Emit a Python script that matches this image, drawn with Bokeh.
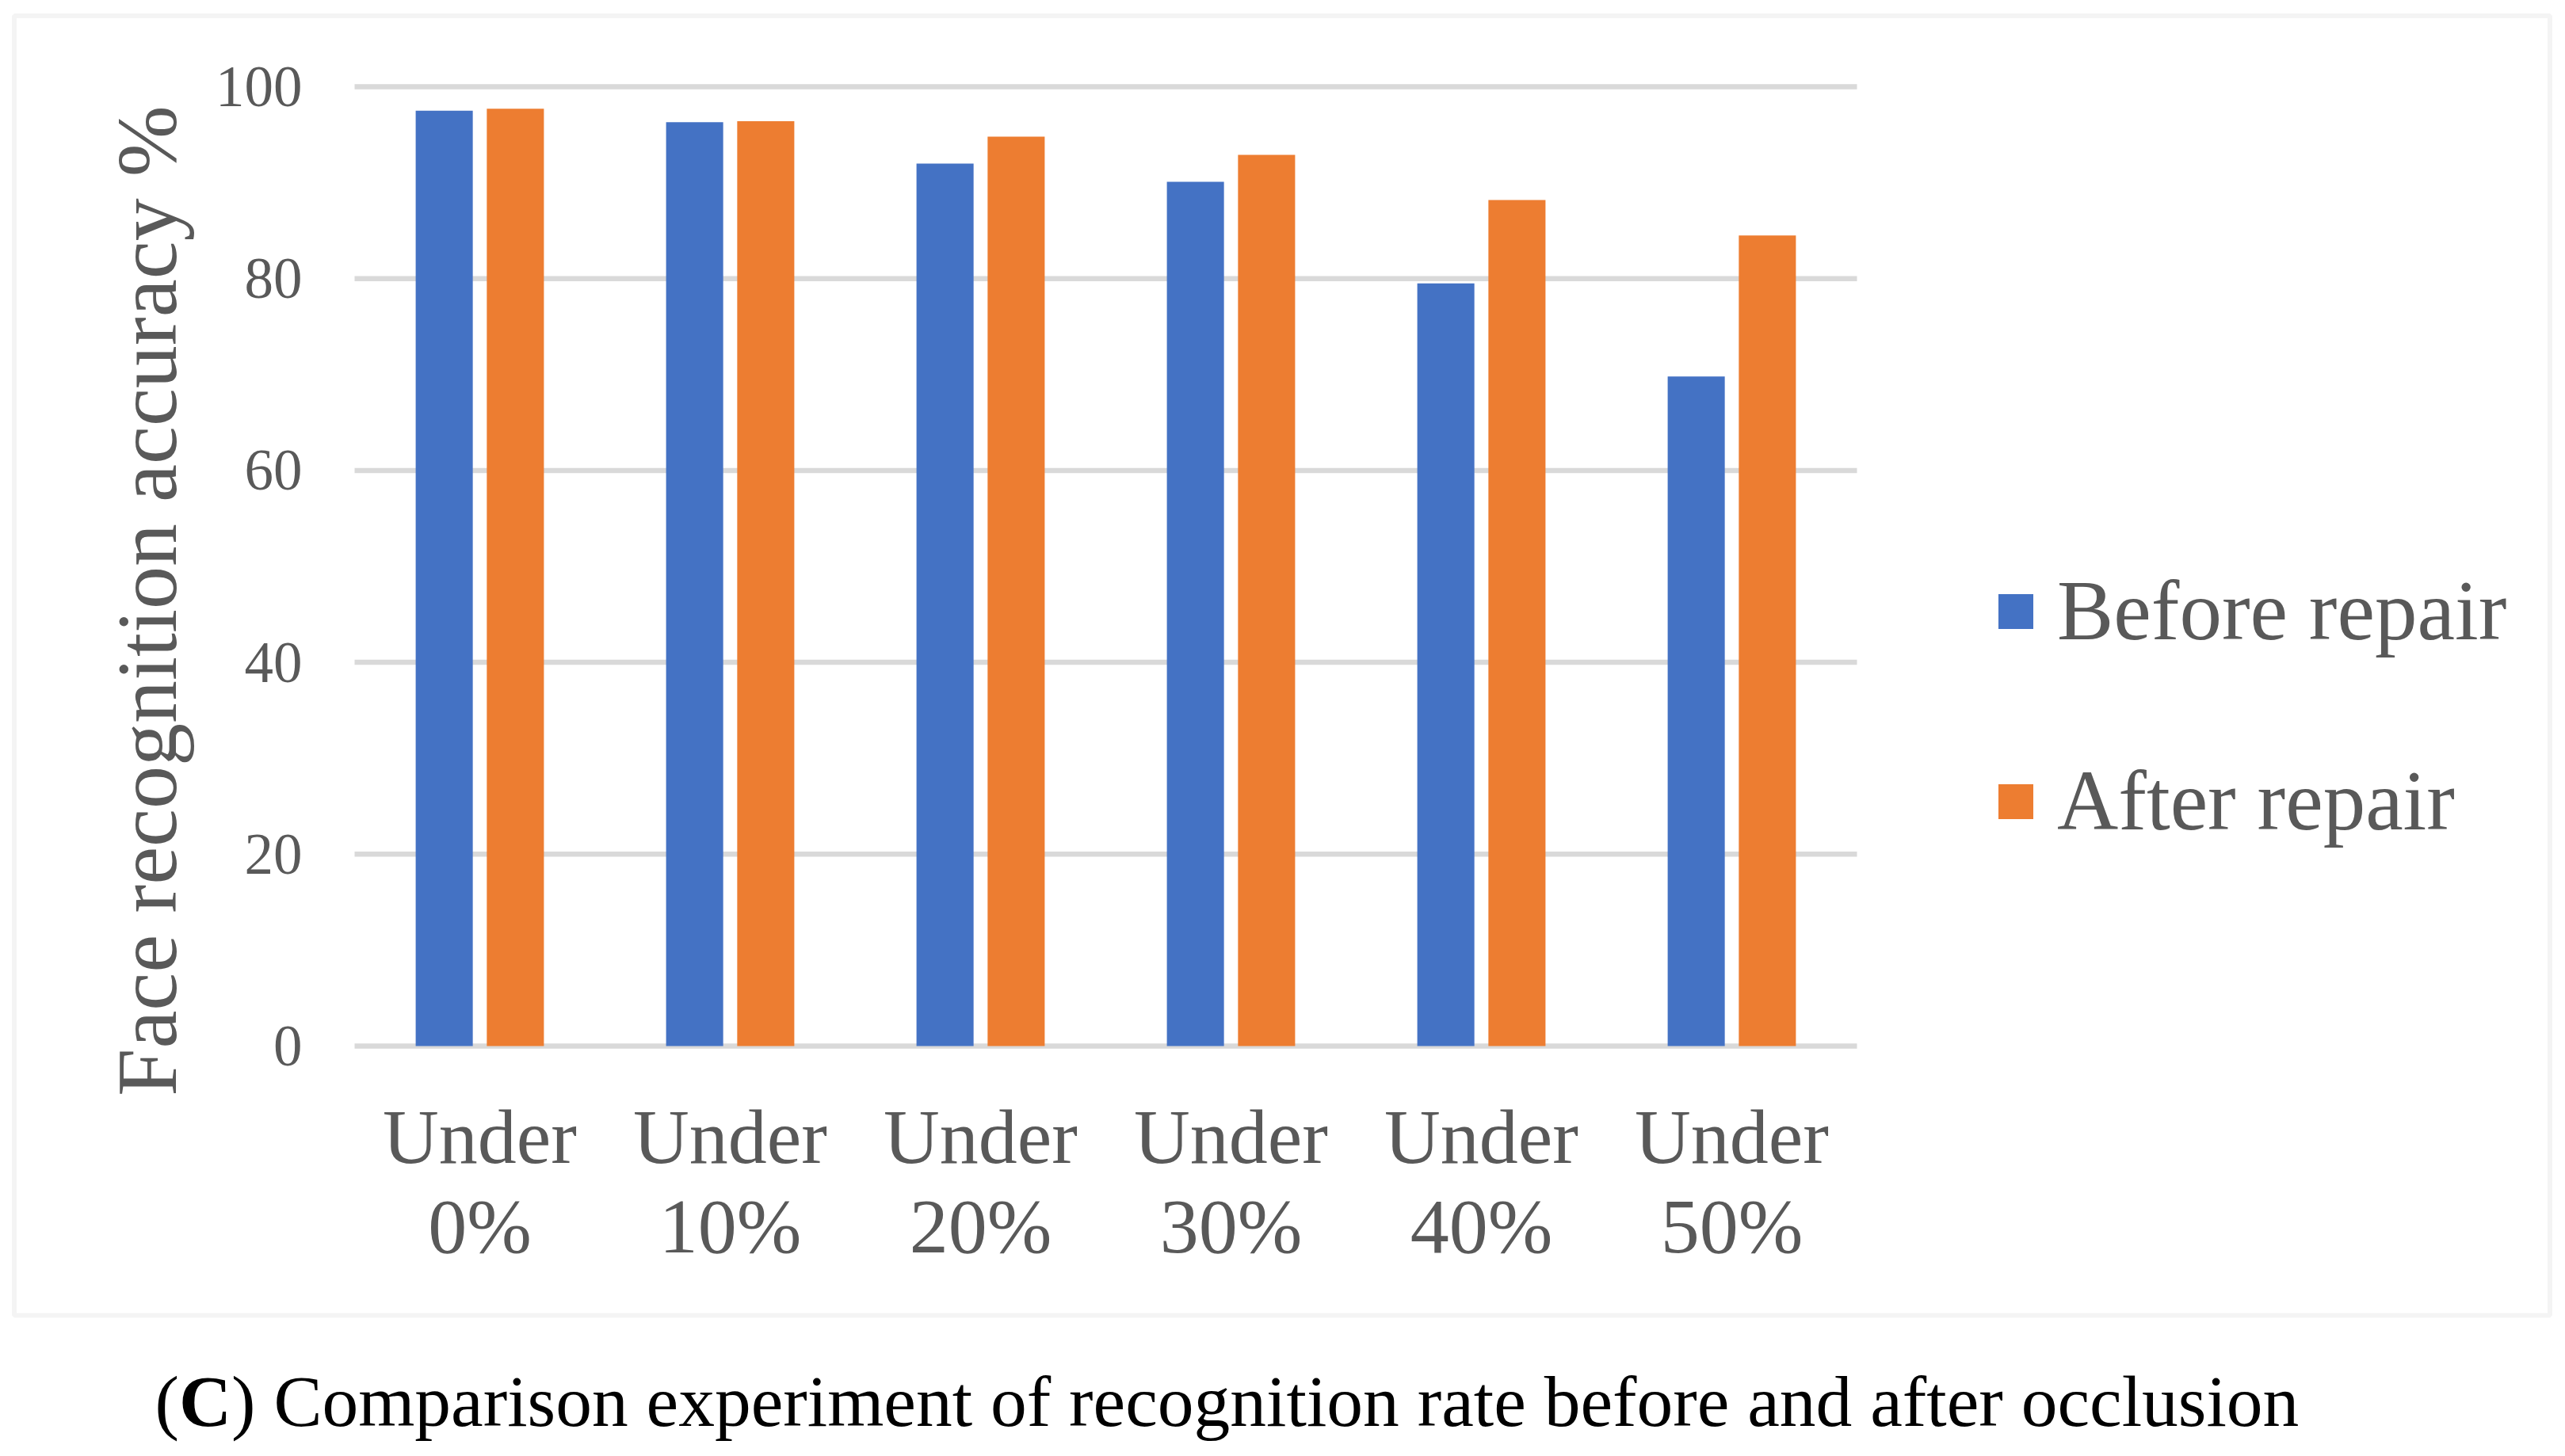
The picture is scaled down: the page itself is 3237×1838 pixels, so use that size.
from bokeh.plotting import figure
from bokeh.models import (Range1d, FixedTicker, Legend, LegendItem, Label,
                          BoxAnnotation)
from bokeh.embed import file_html
from bokeh.resources import INLINE
import math

# ---- data ----
categories = ["Under\n0%", "Under\n10%", "Under\n20%", "Under\n30%", "Under\n40%", "Under\n50%"]
before_repair = [97.5, 96.3, 92.0, 90.1, 79.5, 69.8]
after_repair = [97.7, 96.4, 94.8, 92.9, 88.2, 84.5]
y_ticks = [0, 20, 40, 60, 80, 100]
series_names = ["Before repair", "After repair"]
y_title = "Face recognition accuracy %"
caption = "Comparison experiment of recognition rate before and after occlusion"

BLUE = "#4472C4"
ORANGE = "#ED7D31"
TXT = "#595959"
GRID = "#D9D9D9"
FONT = "Liberation Serif"

# ---- layout (pixels) ----
W, H = 3221, 1822
X0_PX = 447.0        # pixel of category-axis start
XU = 316.0           # pixels per category
Y0_PX = 1320.0       # pixel of value 0
YU = 12.11           # pixels per value unit


def px_x(px):
    return (px - X0_PX) / XU


def px_y(py):
    return (Y0_PX - py) / YU


p = figure(width=W, height=H, output_backend="svg", toolbar_location=None,
           x_range=Range1d(px_x(0), px_x(W)), y_range=Range1d(px_y(H), px_y(0)),
           min_border=0, min_border_left=0, min_border_right=0,
           min_border_top=0, min_border_bottom=0)
p.outline_line_color = None
p.background_fill_color = "white"
p.border_fill_color = "white"
p.grid.visible = False

n = len(categories)
xc = [i + 0.5 for i in range(n)]
off = 0.142
bw = 0.228

# horizontal gridlines over the category span
p.segment(x0=[0] * len(y_ticks), x1=[n] * len(y_ticks), y0=y_ticks, y1=y_ticks,
          line_color=GRID, line_width=6.5)

r1 = p.vbar(x=[x - off for x in xc], top=before_repair, bottom=0, width=bw,
            color=BLUE, line_color=None)
r2 = p.vbar(x=[x + off for x in xc], top=after_repair, bottom=0, width=bw,
            color=ORANGE, line_color=None)

# axes (placed inside the frame)
p.yaxis.fixed_location = 0
p.yaxis.ticker = FixedTicker(ticks=y_ticks)
p.yaxis.axis_line_color = None
p.yaxis.major_tick_line_color = None
p.yaxis.minor_tick_line_color = None
p.yaxis.major_label_standoff = 60
p.yaxis.major_label_text_font = FONT
p.yaxis.major_label_text_font_size = "73px"
p.yaxis.major_label_text_color = TXT

p.xaxis.fixed_location = 0
p.xaxis.ticker = FixedTicker(ticks=xc)
p.xaxis.major_label_overrides = {x: c for x, c in zip(xc, categories)}
p.xaxis.axis_line_color = None
p.xaxis.major_tick_line_color = None
p.xaxis.minor_tick_line_color = None
p.xaxis.major_label_standoff = 54
p.xaxis.major_label_text_font = FONT
p.xaxis.major_label_text_font_size = "98px"
p.xaxis.major_label_text_color = TXT
p.xaxis.major_label_text_line_height = 1.05

# legend
legend = Legend(items=[LegendItem(label=series_names[0], renderers=[r1]),
                       LegendItem(label=series_names[1], renderers=[r2])],
                location=(2516, H - 1073), orientation="vertical",
                glyph_width=55, glyph_height=55, label_height=55,
                label_standoff=25, spacing=117, padding=0, margin=0,
                border_line_color=None, background_fill_alpha=0,
                label_text_font=FONT, label_text_font_size="107px",
                label_text_color=TXT)
p.add_layout(legend, "center")

# y title
p.add_layout(Label(x=px_x(185), y=px_y(758), text=y_title, angle=math.pi / 2,
                   text_align="center", text_baseline="alphabetic",
                   text_font=FONT, text_font_size="108px", text_color=TXT))

# outer border
p.add_layout(BoxAnnotation(left=px_x(17.5), right=px_x(3217.5),
                           top=px_y(19.5), bottom=px_y(1660),
                           fill_alpha=0, line_color=GRID, line_width=6))

# caption
fs = 91.5
cx = 195
cy = 1768
p.add_layout(Label(x=px_x(cx), y=px_y(cy), text="(",
                   text_font=FONT, text_font_size=f"{fs}px", text_color="black",
                   text_baseline="alphabetic"))
p.add_layout(Label(x=px_x(cx + 0.333 * fs), y=px_y(cy), text="C",
                   text_font=FONT, text_font_size=f"{fs}px", text_color="black",
                   text_font_style="bold", text_baseline="alphabetic"))
p.add_layout(Label(x=px_x(cx + (0.333 + 0.722) * fs), y=px_y(cy),
                   text=") " + caption,
                   text_font=FONT, text_font_size=f"{fs}px", text_color="black",
                   text_baseline="alphabetic"))

open("out.html", "w").write(file_html(p, INLINE))
